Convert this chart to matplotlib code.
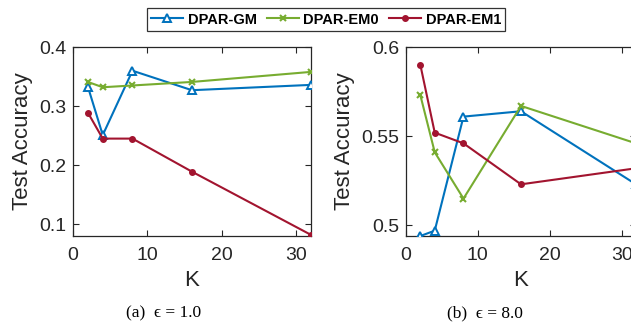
import numpy as np
import matplotlib.pyplot as plt

K = [2, 4, 8, 16, 32]

# eps = 1.0
gm_a = [0.333, 0.251, 0.360, 0.327, 0.336]
em0_a = [0.341, 0.332, 0.335, 0.341, 0.358]
em1_a = [0.289, 0.245, 0.245, 0.189, 0.082]

# eps = 8.0
gm_b = [0.494, 0.497, 0.561, 0.564, 0.523]
em0_b = [0.573, 0.541, 0.515, 0.567, 0.546]
em1_b = [0.590, 0.552, 0.546, 0.523, 0.532]

names = ['DPAR-GM', 'DPAR-EM0', 'DPAR-EM1']
colors = ['#0072BD', '#77AC30', '#A2142F']

plt.rcParams['font.family'] = ['Liberation Sans', 'DejaVu Sans']

fig = plt.figure(figsize=(6.31, 3.24), dpi=100)
ax1 = fig.add_axes([0.1157, 0.2716, 0.377, 0.583])
ax2 = fig.add_axes([0.6434, 0.2716, 0.3645, 0.583])


def draw(ax, gm, em0, em1, ylim, yticks, ylabels):
    ax.plot(K, gm, color=colors[0], lw=1.5, marker='^', ms=6.2,
            mfc='white', mec=colors[0], mew=1.4, label=names[0], zorder=3)
    ax.plot(K, em0, color=colors[1], lw=1.5, marker='x', ms=4,
            mew=1.5, label=names[1], zorder=3)
    ax.plot(K, em1, color=colors[2], lw=1.5, marker='o', ms=4,
            label=names[2], zorder=3)
    ax.set_xlim(0, 32)
    ax.set_ylim(*ylim)
    ax.set_xticks([0, 10, 20, 30])
    ax.set_yticks(yticks)
    ax.set_yticklabels(ylabels)
    ax.tick_params(direction='in', top=True, right=True, labelsize=14,
                   length=4, width=0.8, colors='#262626', pad=5)
    ax.tick_params(axis='x', pad=8)
    for s in ax.spines.values():
        s.set_color('#262626')
        s.set_linewidth(0.9)
    ax.set_xlabel('K', fontsize=16, color='#262626', labelpad=4)
    ax.set_ylabel('Test Accuracy', fontsize=16, color='#262626', labelpad=4)


draw(ax1, gm_a, em0_a, em1_a, (0.08, 0.4), [0.1, 0.2, 0.3, 0.4],
     ['0.1', '0.2', '0.3', '0.4'])
draw(ax2, gm_b, em0_b, em1_b, (0.494, 0.6), [0.5, 0.55, 0.6],
     ['0.5', '0.55', '0.6'])

leg = fig.legend(*ax1.get_legend_handles_labels(), loc='center',
                 bbox_to_anchor=(326 / 631, 1 - 19.5 / 324), ncol=3,
                 prop={'weight': 'bold', 'size': 10.5}, frameon=True,
                 fancybox=False, edgecolor='black', handlelength=2.2,
                 handletextpad=0.3, columnspacing=0.7, borderpad=0.3,
                 borderaxespad=0)
leg.get_frame().set_linewidth(0.9)

serif = ['Liberation Serif', 'DejaVu Serif']
fig.text(164 / 631, 1 - 313 / 324, '(a)  \u03f5 = 1.0', ha='center',
         va='center', fontsize=12.5, family=serif)
fig.text(485 / 631, 1 - 313 / 324, '(b)  \u03f5 = 8.0', ha='center',
         va='center', fontsize=12.5, family=serif)

fig.savefig('out.png', dpi=100)
